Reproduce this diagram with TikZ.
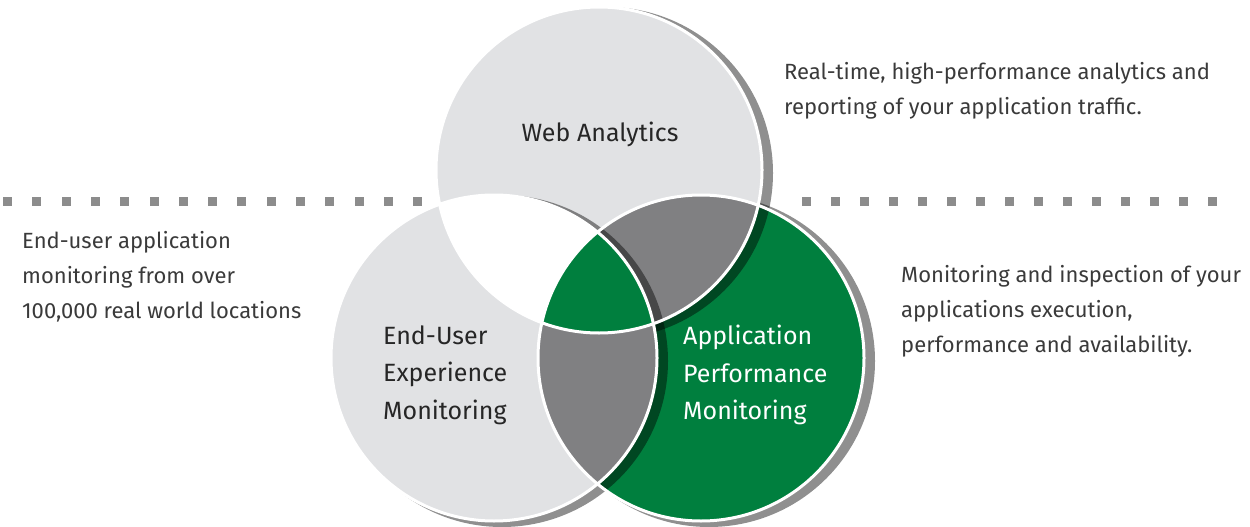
\documentclass[tikz,border=0pt]{standalone}
\usepackage{fontspec}
\setmainfont{Fira Sans}
\usepackage{tikz}
\usetikzlibrary{positioning}

\definecolor{lightcircle}{HTML}{E1E2E4}
\definecolor{lensgray}{HTML}{808082}
\definecolor{apmgreen}{HTML}{007F3E}
\definecolor{textgray}{HTML}{3A3A3A}
\definecolor{dashgray}{HTML}{8C8C8C}

\tikzstyle{circlelabel}=[anchor=west, align=left, inner sep=0pt, font=\fontsize{25}{37.5}\selectfont]
\tikzstyle{sidetext}=[anchor=west, align=left, inner sep=0pt, text=textgray, font=\fontsize{22}{35}\selectfont]
\tikzstyle{dropshadow}=[fill=black, fill opacity=0.44]
\tikzstyle{rim}=[draw=white, line width=3pt]
\newcommand{\rad}{163pt}

\begin{document}
\begin{tikzpicture}[x=1pt, y=-1pt]
    \useasboundingbox (0,0) rectangle (1250,527);
    \coordinate (wa) at (599,170);
    \coordinate (eue) at (494,358);
    \coordinate (apm) at (701,358);

    % dotted separator
    \foreach \i in {0,...,14} {
        \fill[dashgray] (3+29.3*\i,196.5) rectangle ++(9,9);
        \fill[dashgray] (802+29*\i,196.5) rectangle ++(9,9);
    }

    % application performance monitoring
    \fill[dropshadow] ([shift={(8,3)}]apm) circle (166pt);
    \fill[apmgreen] (apm) circle (\rad);

    % web analytics
    \fill[dropshadow] ([shift={(8,3)}]wa) circle (166pt);
    \fill[lightcircle] (wa) circle (\rad);
    \begin{scope}
        \clip (wa) circle (\rad);
        \fill[lensgray] (apm) circle (\rad);
    \end{scope}

    % end-user experience monitoring
    \fill[dropshadow] ([shift={(8,3)}]eue) circle (166pt);
    \fill[lightcircle] (eue) circle (\rad);
    \begin{scope}
        \clip (eue) circle (\rad);
        \fill[white] (wa) circle (\rad);
        \fill[lensgray] (apm) circle (\rad);
        \clip (wa) circle (\rad);
        \fill[apmgreen] (apm) circle (\rad);
    \end{scope}

    % white rims
    \draw[rim] (apm) circle (\rad);
    \draw[rim] (wa) circle (\rad);
    \draw[rim] (eue) circle (\rad);

    % labels
    \node[circlelabel, anchor=center, text=black!85] (walabel) at (600,134) {Web Analytics};
    \node[circlelabel, text=black!85] (euelabel) at (383,375) {End-User\\Experience\\Monitoring};
    \node[circlelabel, text=white] (apmlabel) at (683,375) {Application\\Performance\\Monitoring};

    \node[sidetext] (wadesc) at (784,91) {Real-time, high-performance analytics and\\reporting of your application traffic.};
    \node[sidetext] (euedesc) at (22,277) {End-user application\\monitoring from over\\100,000 real world locations};
    \node[sidetext] (apmdesc) at (901,311) {Monitoring and inspection of your\\applications execution,\\performance and availability.};
\end{tikzpicture}
\end{document}
